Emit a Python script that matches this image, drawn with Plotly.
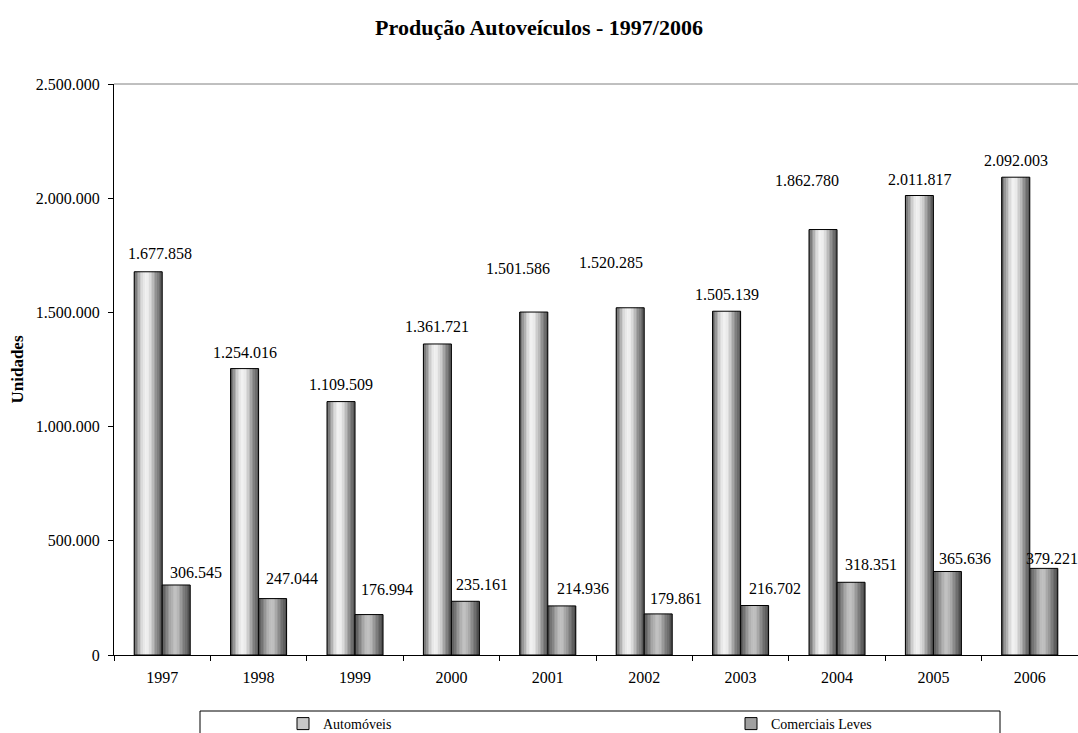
import plotly.graph_objects as go

# Produção anual de autoveículos (unidades)
anos = ["1997", "1998", "1999", "2000", "2001", "2002", "2003", "2004", "2005", "2006"]
automoveis = [1677858, 1254016, 1109509, 1361721, 1501586, 1520285, 1505139, 1862780, 2011817, 2092003]
comerciais_leves = [306545, 247044, 176994, 235161, 214936, 179861, 216702, 318351, 365636, 379221]

y_ticks = [0, 500000, 1000000, 1500000, 2000000, 2500000]

# label nudges in pixels (dx from bar centre, dy above bar top)
auto_label_dx = [12, 0, 0, 0, -16, -19, 0, -16, 0, 0]
auto_label_dy = [18, 16, 17, 17, 44, 45, 17, 49, 16, 17]
com_label_dx = [20, 19, 18, 17, 21, 18, 20, 20, 18, 8]
com_label_dy = [12, 20, 25, 17, 17, 15, 17, 18, 13, 10]

FONT = "Liberation Serif, Times New Roman, serif"
BAR_W = 0.2905          # width of one bar in category units
N_SLICES = 18           # vertical strips used to fake the cylinder shading

# grey level profiles across a bar (position 0..1 -> grey value)
auto_profile = [(0.0, 85), (0.1, 132), (0.25, 205), (0.4, 242), (0.52, 236),
                (0.66, 198), (0.82, 140), (1.0, 82)]
com_profile = [(0.0, 75), (0.12, 110), (0.3, 165), (0.45, 194), (0.56, 188),
               (0.7, 152), (0.86, 110), (1.0, 72)]


def grey_at(profile, t):
    for (t0, g0), (t1, g1) in zip(profile, profile[1:]):
        if t0 <= t <= t1:
            g = g0 + (g1 - g0) * (t - t0) / (t1 - t0)
            g = int(round(g))
            return f"rgb({g},{g},{g})"
    g = profile[-1][1]
    return f"rgb({g},{g},{g})"


def fmt(v):
    return f"{v:,}".replace(",", ".")


fig = go.Figure()

series = [
    ("Automóveis", automoveis, -BAR_W, auto_profile, "legend", "rgb(200,200,200)"),
    ("Comerciais Leves", comerciais_leves, 0.0, com_profile, "legend2", "rgb(160,160,160)"),
]

for name, values, base, profile, leg, swatch in series:
    step = BAR_W / N_SLICES
    for k in range(N_SLICES):
        t = (k + 0.5) / N_SLICES
        fig.add_trace(go.Bar(
            x=anos, y=values, width=step * 1.08, offset=base + k * step,
            marker=dict(color=grey_at(profile, t), line=dict(width=0)),
            showlegend=False, hoverinfo="skip",
        ))
    # outline of the whole bar
    fig.add_trace(go.Bar(
        x=anos, y=values, width=BAR_W, offset=base,
        marker=dict(color="rgba(0,0,0,0)", line=dict(color="black", width=1)),
        showlegend=False, name=name,
    ))
    # legend entry
    fig.add_trace(go.Bar(
        x=[None], y=[None], name=name, legend=leg,
        marker=dict(color=swatch, line=dict(color="black", width=1)),
        showlegend=True,
    ))

annotations = []
for i in range(len(anos)):
    annotations.append(dict(
        x=i - BAR_W / 2, y=automoveis[i], xref="x", yref="y",
        text=fmt(automoveis[i]), showarrow=False,
        xshift=auto_label_dx[i], yshift=auto_label_dy[i],
        font=dict(family=FONT, size=16, color="black"),
    ))
    annotations.append(dict(
        x=i + BAR_W / 2, y=comerciais_leves[i], xref="x", yref="y",
        text=fmt(comerciais_leves[i]), showarrow=False,
        xshift=com_label_dx[i], yshift=com_label_dy[i],
        font=dict(family=FONT, size=16, color="black"),
    ))

annotations.append(dict(
    x=-0.1006, y=0.5, xref="paper", yref="paper", text="<b>Unidades</b>",
    xanchor="center", yanchor="middle",
    textangle=-90, showarrow=False, font=dict(family=FONT, size=17, color="black"),
))

fig.update_layout(
    width=1078, height=733,
    margin=dict(l=114, r=0, t=84, b=78),
    paper_bgcolor="white", plot_bgcolor="white",
    barmode="overlay",
    separators=",.",
    title=dict(
        text="<b>Produção Autoveículos - 1997/2006</b>",
        x=0.5, xref="container", xanchor="center",
        y=1 - 27 / 733, yref="container", yanchor="middle",
        font=dict(family=FONT, size=22, color="black"),
    ),
    xaxis=dict(
        type="category", tickson="boundaries", ticks="outside", ticklen=5,
        tickcolor="black", showline=True, linecolor="black", linewidth=1,
        showgrid=False, tickfont=dict(family=FONT, size=16, color="black"),
        ticklabelstandoff=8,
        range=[-0.5, 9.5],
    ),
    yaxis=dict(
        range=[0, 2500000], tickvals=y_ticks, tickformat=",d",
        ticks="outside", ticklen=5, tickcolor="black",
        showline=True, linecolor="black", linewidth=1,
        showgrid=False, zeroline=False, ticklabelstandoff=5,
        tickfont=dict(family=FONT, size=16, color="black"),
    ),
    legend=dict(
        orientation="h", xref="container", yref="container",
        x=283 / 1078, xanchor="left", y=1 - 708 / 733, yanchor="top",
        font=dict(family=FONT, size=14, color="black"),
        bgcolor="rgba(0,0,0,0)", borderwidth=0,
    ),
    legend2=dict(
        orientation="h", xref="container", yref="container",
        x=731 / 1078, xanchor="left", y=1 - 708 / 733, yanchor="top",
        font=dict(family=FONT, size=14, color="black"),
        bgcolor="rgba(0,0,0,0)", borderwidth=0,
    ),
    annotations=annotations,
    shapes=[
        # top edge of the plotting area
        dict(type="line", xref="paper", yref="paper", x0=0, x1=1, y0=1, y1=1,
             line=dict(color="rgb(128,128,128)", width=1)),
        # legend frame
        dict(type="rect", xref="paper", yref="paper",
             x0=(200 - 114) / 964, x1=(1000 - 114) / 964,
             y0=-(711 - 655) / 571, y1=-(745 - 655) / 571,
             line=dict(color="black", width=1), fillcolor="rgba(0,0,0,0)"),
    ],
)

fig.write_html("out.html")
